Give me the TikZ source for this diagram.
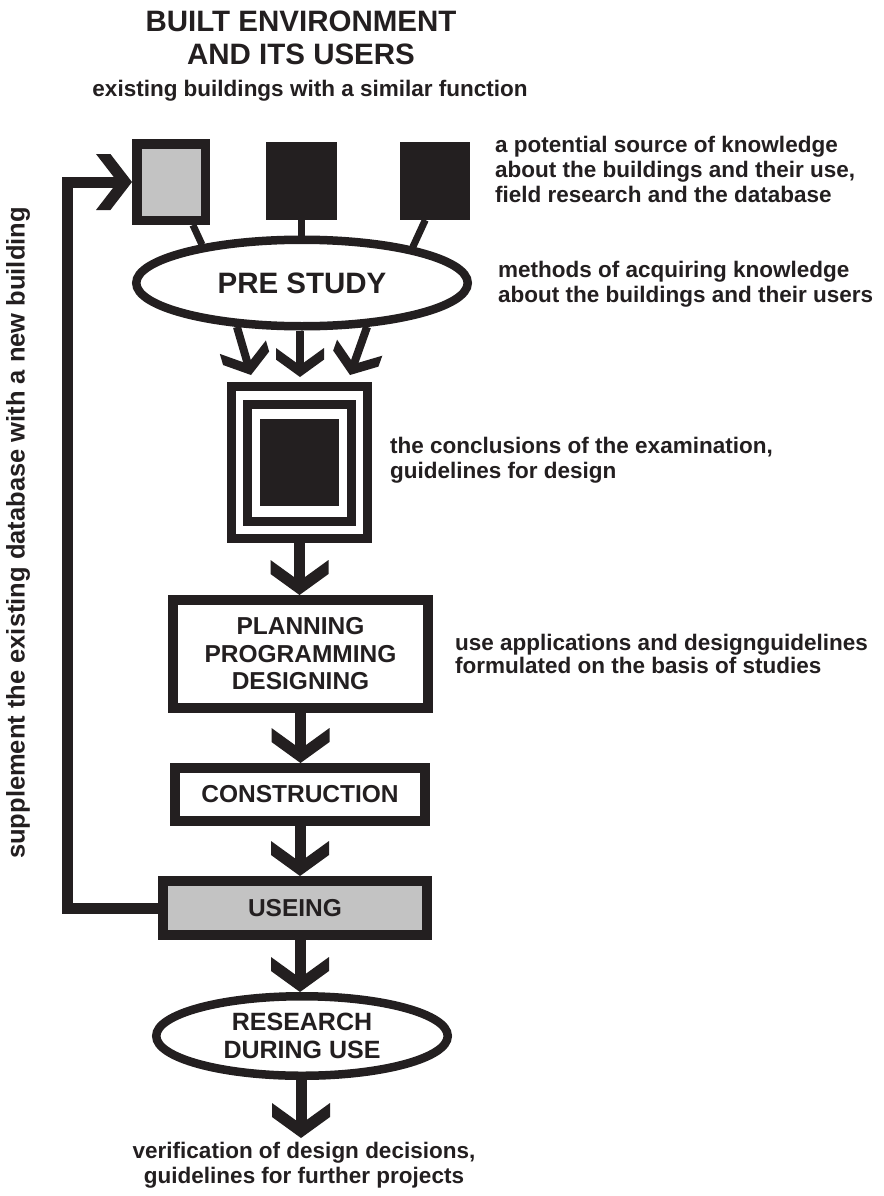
\documentclass[tikz,border=0pt]{standalone}
\usepackage{fontspec}
\setmainfont{Liberation Sans}
\usetikzlibrary{arrows.meta,shapes.geometric,calc}
\definecolor{ink}{RGB}{35,31,32}
\definecolor{boxgray}{RGB}{195,195,195}
\newcommand\myfs[2]{\fontsize{#1}{#2}\selectfont\bfseries}
\pgfdeclarearrow{
  name = Chev,
  parameters = {\the\pgfarrowlength,\the\pgfarrowwidth},
  setup code = {
    \pgfarrowssettipend{0pt}
    \pgfarrowssetlineend{-.3\pgfarrowlength}
    \pgfarrowssetbackend{-\pgfarrowlength}
    \pgfarrowshullpoint{0pt}{0pt}
    \pgfarrowsupperhullpoint{-\pgfarrowlength}{.5\pgfarrowwidth}
    \pgfarrowssavethe\pgfarrowlength
    \pgfarrowssavethe\pgfarrowwidth
  },
  drawing code = {
    \pgfpathmoveto{\pgfpointorigin}
    \pgfpathlineto{\pgfpoint{-.6\pgfarrowlength}{.5\pgfarrowwidth}}
    \pgfpathlineto{\pgfpoint{-\pgfarrowlength}{.5\pgfarrowwidth}}
    \pgfpathlineto{\pgfpoint{-.4\pgfarrowlength}{0pt}}
    \pgfpathlineto{\pgfpoint{-\pgfarrowlength}{-.5\pgfarrowwidth}}
    \pgfpathlineto{\pgfpoint{-.6\pgfarrowlength}{-.5\pgfarrowwidth}}
    \pgfpathclose
    \pgfusepathqfill
  },
  defaults = {length=35pt,width=58pt}
}
\tikzset{
  box/.style={rectangle, draw=ink, line width=10pt, inner sep=0pt, align=center,
    text=ink, font=\myfs{24.5}{27.5}},
  oval/.style={ellipse, draw=ink, line width=8.5pt, fill=white, inner sep=0pt,
    align=center, text=ink},
  flow/.style={draw=ink, line width=11pt, -{Chev[length=35pt,width=58pt]}},
  smallflow/.style={draw=ink, line width=8pt, -{Chev[length=29pt,width=48pt]}},
  link/.style={draw=ink, line width=7pt},
  feedback/.style={draw=ink, line width=11pt, line join=miter, -{Chev[length=36pt,width=56pt]}},
  note/.style={font=\myfs{22.5}{24}, text=ink, inner sep=0pt, anchor=base west},
  cnote/.style={note, anchor=base},
  title/.style={font=\myfs{29.5}{33}, text=ink, inner sep=0pt, anchor=base},
}
\begin{document}
\begin{tikzpicture}[x=1pt,y=-1pt]
\useasboundingbox[fill=white] (0,0) rectangle (883,1196);

% titles
\node[title] (ttl1) at (301,32) {BUILT ENVIRONMENT};
\node[title] (ttl2) at (301,65) {AND ITS USERS};
\node[cnote] (exist) at (310,97) {existing buildings with a similar function};

% source squares
\node[rectangle, draw=ink, line width=9.5pt, fill=boxgray, inner sep=0pt,
  minimum width=68.5pt, minimum height=76.5pt] (sq1) at (171,182) {};
\node[rectangle, fill=ink, inner sep=0pt, outer sep=0pt,
  minimum width=71pt, minimum height=78pt] (sq2) at (301.5,181) {};
\node[rectangle, fill=ink, inner sep=0pt, outer sep=0pt,
  minimum width=70pt, minimum height=78pt] (sq3) at (435,181) {};

% pre study
\node[oval, minimum width=331.5pt, minimum height=86.5pt, font=\myfs{29.5}{33}] (pre) at (302,283) {PRE STUDY};
\draw[link] (sq1.-63) -- (pre.159);
\draw[link] (sq2.south) -- (sq2.south |- pre.north);
\draw[link] (sq3.-104) -- (pre.18);

% conclusions square
\node[rectangle, draw=ink, line width=9pt, inner sep=0pt,
  minimum width=136pt, minimum height=152pt] (conc) at (299.5,462.5) {};
\node[rectangle, draw=ink, line width=9pt, inner sep=0pt,
  minimum width=104pt, minimum height=117pt] (conc2) at (conc.center) {};
\node[rectangle, fill=ink, inner sep=0pt,
  minimum width=79pt, minimum height=87pt] (conc3) at (conc.center) {};

\coordinate (tipL) at (251,375);
\coordinate (tipM) at (300,377);
\coordinate (tipR) at (350,375);
\draw[smallflow] (pre.214) -- (tipL);
\draw[smallflow] (tipM |- pre.south) -- (tipM);
\draw[smallflow] (pre.326) -- (tipR);

% process boxes
\node[box, minimum width=255pt, minimum height=108pt] (plan) at (300.5,654)
  {PLANNING\\PROGRAMMING\\DESIGNING};
\node[box, minimum width=250pt, minimum height=53pt] (cons) at (300,794.5) {CONSTRUCTION};
\node[box, fill=boxgray, minimum width=264pt, minimum height=54pt] (use) at (295,908) {USEING};
\node[oval, minimum width=291.5pt, minimum height=79.5pt, font=\myfs{25}{28}] (res) at (302,1036)
  {RESEARCH\\DURING USE};
\coordinate (endtip) at (301,1138);

\draw[flow] (conc.south) -- (conc.south |- plan.north);
\draw[flow] (plan.south) -- (plan.south |- cons.north);
\draw[flow] (cons.south) -- (cons.south |- use.north);
\draw[flow] (use.south -| cons.south) -- (cons.south |- res.north);
\draw[flow] (endtip |- res.south) -- (endtip);

% feedback loop
\coordinate (fbx) at (67,500);
\draw[feedback] (use.west) -| (fbx) |- (sq1.west);
\node[font=\myfs{25.5}{28}, text=ink, inner sep=0pt, rotate=90] (fbtext) at (18,533)
  {supplement the existing database with a new building};

% side notes
\node[note] (n1a) at (495,153) {a potential source of knowledge};
\node[note] (n1b) at (495,177) {about the buildings and their use,};
\node[note] (n1c) at (495,202) {field research and the database};
\node[note] (n2a) at (498,277) {methods of acquiring knowledge};
\node[note] (n2b) at (498,302) {about the buildings and their users};
\node[note] (n3a) at (390,453) {the conclusions of the examination,};
\node[note] (n3b) at (390,478) {guidelines for design};
\node[note] (n4a) at (455,650) {use applications and designguidelines};
\node[note] (n4b) at (455,673) {formulated on the basis of studies};
\node[cnote] (b1) at (304,1158) {verification of design decisions,};
\node[cnote] (b2) at (304,1183) {guidelines for further projects};
\end{tikzpicture}
\end{document}
